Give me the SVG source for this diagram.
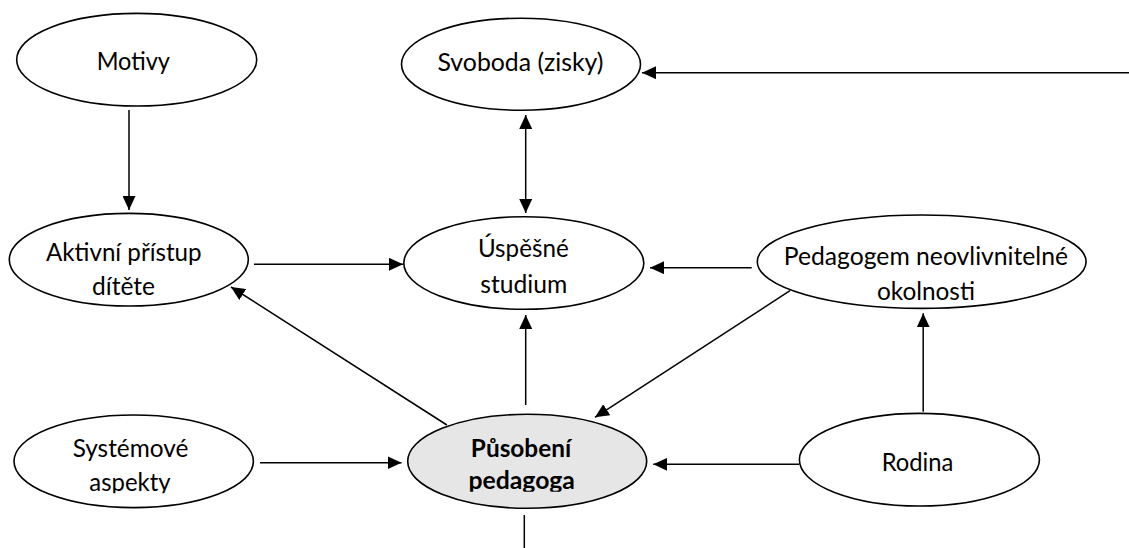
<svg xmlns="http://www.w3.org/2000/svg" width="1129" height="548" viewBox="0 0 1129 548">
  <style>
    .node ellipse { fill: #ffffff; stroke: #000000; stroke-width: 1.6; }
    .node.key ellipse { fill: #e6e6e6; }
    .node text { font-family: Lato, "Open Sans", "Liberation Sans", sans-serif; font-size: 25px; fill: #000000; text-anchor: middle; }
    .node.key text { font-weight: bold; }
    .edges line { stroke: #000000; stroke-width: 1.5; fill: none; }
    .arrow { marker-end: url(#head); }
    .both { marker-start: url(#head); marker-end: url(#head); }
  </style>
  <defs>
    <marker id="head" markerUnits="userSpaceOnUse" markerWidth="14" markerHeight="13" refX="14" refY="6.5" orient="auto-start-reverse">
      <path d="M0,0 L14,6.5 L0,13 Z" fill="#000000"/>
    </marker>
    <!-- the second line of some labels is cut by its text box -->
    <clipPath id="cutKey"><rect x="400" y="400" width="260" height="91.7"/></clipPath>
    <clipPath id="cutSys"><rect x="0" y="400" width="270" height="93.3"/></clipPath>
  </defs>

  <rect width="1129" height="548" fill="#ffffff"/>

  <g class="edges">
    <line class="arrow" x1="129" y1="110" x2="129" y2="210"/>
    <line class="arrow" x1="1129" y1="72.7" x2="642" y2="72.7"/>
    <line class="both" x1="525.7" y1="115" x2="525.7" y2="213"/>
    <line class="arrow" x1="254" y1="264.3" x2="403" y2="264.3"/>
    <line class="arrow" x1="751.7" y1="267.7" x2="650" y2="267.7"/>
    <line class="arrow" x1="525.7" y1="405" x2="525.7" y2="315"/>
    <line class="arrow" x1="446.9" y1="425" x2="231" y2="287"/>
    <line class="arrow" x1="790" y1="290.7" x2="595" y2="417.3"/>
    <line class="arrow" x1="923.2" y1="411.7" x2="923.2" y2="313.3"/>
    <line class="arrow" x1="260" y1="462.7" x2="401.5" y2="462.7"/>
    <line class="arrow" x1="799" y1="464.3" x2="653.3" y2="464.3"/>
    <line x1="524.3" y1="515" x2="524.3" y2="548"/>
  </g>

  <g id="motivy" class="node">
    <ellipse cx="136.7" cy="59.7" rx="120" ry="46.3"/>
    <text x="133.3" y="70" textLength="73.3" lengthAdjust="spacingAndGlyphs">Motivy</text>
  </g>

  <g id="svoboda" class="node">
    <ellipse cx="521" cy="64.2" rx="119.5" ry="46"/>
    <text x="520.5" y="71" textLength="166" lengthAdjust="spacingAndGlyphs">Svoboda (zisky)</text>
  </g>

  <g id="aktivni" class="node">
    <ellipse cx="128.8" cy="259.7" rx="119.5" ry="46.3"/>
    <text x="123.8" y="260.5" textLength="155.7" lengthAdjust="spacingAndGlyphs">Aktivní přístup</text>
    <text x="123.5" y="295" textLength="63" lengthAdjust="spacingAndGlyphs">dítěte</text>
  </g>

  <g id="uspesne" class="node">
    <ellipse cx="523.8" cy="263" rx="120" ry="46.3"/>
    <text x="523.3" y="256.5" textLength="90.8" lengthAdjust="spacingAndGlyphs">Úspěšné</text>
    <text x="523.8" y="292.5" textLength="87" lengthAdjust="spacingAndGlyphs">studium</text>
  </g>

  <g id="okolnosti" class="node">
    <ellipse cx="921.7" cy="261.7" rx="164.4" ry="46.7"/>
    <text x="925.9" y="264.5" textLength="284.3" lengthAdjust="spacingAndGlyphs">Pedagogem neovlivnitelné</text>
    <text x="925.9" y="300" textLength="98" lengthAdjust="spacingAndGlyphs">okolnosti</text>
  </g>

  <g id="pusobeni" class="node key">
    <ellipse cx="527.2" cy="461.3" rx="119.5" ry="47"/>
    <text x="521" y="456.5" textLength="100.3" lengthAdjust="spacingAndGlyphs">Působení</text>
    <text x="521.7" y="488.5" textLength="106.5" lengthAdjust="spacingAndGlyphs" clip-path="url(#cutKey)">pedagoga</text>
  </g>

  <g id="systemove" class="node">
    <ellipse cx="133.7" cy="461.3" rx="119.7" ry="46.3"/>
    <text x="130.5" y="457.3" textLength="115.7" lengthAdjust="spacingAndGlyphs">Systémové</text>
    <text x="130" y="490.7" textLength="81.3" lengthAdjust="spacingAndGlyphs" clip-path="url(#cutSys)">aspekty</text>
  </g>

  <g id="rodina" class="node">
    <ellipse cx="919.4" cy="459.7" rx="120" ry="46.3"/>
    <text x="917.5" y="470.7" textLength="71.7" lengthAdjust="spacingAndGlyphs">Rodina</text>
  </g>
</svg>
